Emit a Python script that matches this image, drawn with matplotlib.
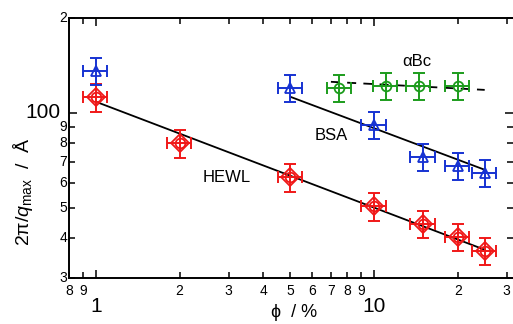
import matplotlib
matplotlib.use("Agg")
import matplotlib.pyplot as plt
import numpy as np

plt.rcParams['font.family'] = ['Liberation Sans', 'DejaVu Sans']
plt.rcParams['mathtext.fontset'] = 'custom'
plt.rcParams['mathtext.rm'] = 'Liberation Sans'
plt.rcParams['mathtext.it'] = 'Liberation Sans:italic'

# data (phi in %, spacing in Angstrom)
hewl_phi = [1, 2, 5, 10, 15, 20, 25]
hewl_d = [112, 80, 62.5, 50.5, 44.5, 40.5, 36.5]
bsa_phi = [1, 5, 10, 15, 20, 25]
bsa_d = [136, 120, 91.5, 72.5, 68, 64.5]
abc_phi = [7.5, 11, 14.5, 20]
abc_d = [120, 122, 122, 122]
rel_err = 0.10  # 10 % error bars on both axes

# fit lines (end points)
hewl_fit_x = [1, 25]
hewl_fit_y = [108.5, 36.8]
bsa_fit_x = [5, 25]
bsa_fit_y = [112.5, 66]
abc_fit_x = [7.0, 25]
abc_fit_y = [125.5, 118.3]

red = '#f01818'
blue = '#1632d2'
green = '#1c9c1c'

fig = plt.figure(figsize=(5.13, 3.24), dpi=100)
ax = fig.add_axes([0.1343, 0.1429, 1.0 - 0.1343, 0.9444 - 0.1429])
ax.set_xscale('log')
ax.set_yscale('log')
ax.set_xlim(0.8, 31.6)
ax.set_ylim(30, 200)

# fits
ax.plot(hewl_fit_x, hewl_fit_y, color='black', lw=1.3, zorder=3)
ax.plot(bsa_fit_x, bsa_fit_y, color='black', lw=1.3, zorder=3)
ax.plot(abc_fit_x, abc_fit_y, color='black', lw=1.3, ls=(0, (5, 4)), zorder=3)


def series(x, y, color, markers, ms):
    x = np.array(x)
    y = np.array(y)
    ax.errorbar(x, y, xerr=x * rel_err, yerr=y * rel_err, fmt='none',
                ecolor=color, elinewidth=1.4, capsize=4, capthick=1.4, zorder=4)
    for m, s in zip(markers, ms):
        ax.plot(x, y, ls='none', marker=m, ms=s, mfc='none', mec=color,
                mew=1.3, zorder=5)


series(hewl_phi, hewl_d, red, ['D', 'o'], [9, 7])
series(bsa_phi, bsa_d, blue, ['^'], [7])
series(abc_phi, abc_d, green, ['o'], [7])

ax.text(2.95, 62.5, 'HEWL', fontsize=12, ha='center', va='center')
ax.text(7.0, 85, 'BSA', fontsize=12, ha='center', va='center')
ax.text(14.3, 146, 'αBc', fontsize=12, ha='center', va='center')

# ticks, matlab-like: inward, on all sides, labels drawn as text
ax.spines['right'].set_visible(False)
for s in ['left', 'bottom', 'top']:
    ax.spines[s].set_linewidth(1.4)
ax.tick_params(which='both', direction='in', top=True, right=True,
               labelbottom=False, labelleft=False, width=1.1)
ax.tick_params(which='major', length=6)
ax.tick_params(which='minor', length=4)

x_minor = [0.8, 0.9, 2, 3, 4, 5, 6, 7, 8, 9, 20, 30]
x_minor_lbl = ['8', '9', '2', '3', '4', '5', '6', '7', '8', '9', '2', '3']
x_major = [1, 10]
y_minor = [200, 90, 80, 70, 60, 50, 40, 30]
y_minor_lbl = ['2', '9', '8', '7', '6', '5', '4', '3']
y_major = [100]

ax.set_xticks(x_major)
ax.set_xticks(x_minor, minor=True)
ax.set_yticks(y_major)
ax.set_yticks(y_minor, minor=True)

trx = ax.get_xaxis_transform()
for v, t in zip(x_minor, x_minor_lbl):
    ax.text(v, -0.025, t, transform=trx, ha='center', va='top', fontsize=10)
for v in x_major:
    ax.text(v, -0.075, str(v), transform=trx, ha='center', va='top', fontsize=15)
tr_y = ax.get_yaxis_transform()
for v, t in zip(y_minor, y_minor_lbl):
    ax.text(-0.004, v, t, transform=tr_y, ha='right', va='center', fontsize=10)
for v in y_major:
    ax.text(-0.018, v, str(v), transform=tr_y, ha='right', va='center', fontsize=15)

fig.text(0.045, 0.41, r'2π/$q_{\rm max}$  /  Å', rotation=90, fontsize=14,
         ha='center', va='center')
fig.text(0.573, 0.035, 'ϕ  / %', fontsize=13, ha='center', va='center')

fig.savefig('out.png', dpi=100)
